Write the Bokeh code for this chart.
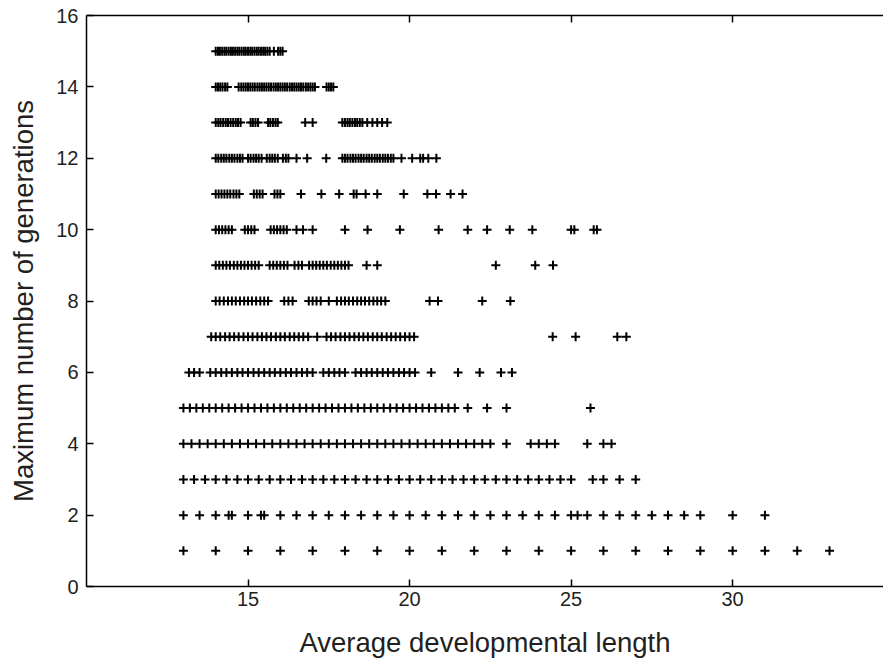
from bokeh.plotting import figure
from bokeh.models import ColumnDataSource, FixedTicker, LinearAxis, Range1d
from bokeh.embed import file_html
from bokeh.resources import INLINE

# Average developmental length values observed for each maximum number of generations
gen1 = [13, 14, 15, 16, 17, 18, 19, 20, 21, 22, 23, 24, 25, 26, 27, 28, 29, 30, 31, 32, 33]
gen2 = [13, 13.5, 14, 14.4, 14.5, 15, 15.4, 15.5, 16, 16.5, 17, 17.5, 18, 18.5, 19, 19.5, 20, 20.5,
        21, 21.5, 22, 22.5, 23, 23.5, 24, 24.5, 25, 25.2, 25.5, 26, 26.5, 27, 27.5, 28, 28.5, 29, 30, 31]
gen3 = [13.0, 13.33, 13.67, 14.0, 14.33, 14.67, 15.0, 15.33, 15.67, 16.0, 16.33, 16.67, 17.0, 17.33,
        17.67, 18.0, 18.33, 18.67, 19.0, 19.33, 19.67, 20.0, 20.33, 20.67, 21.0, 21.33, 21.67, 22.0,
        22.33, 22.67, 23.0, 23.33, 23.67, 24.0, 24.33, 24.67, 25.0, 25.67, 26.0, 26.5, 27.0]
gen4 = [13.0, 13.25, 13.5, 13.75, 14.0, 14.25, 14.5, 14.75, 15.0, 15.25, 15.5, 15.75, 16.0, 16.25,
        16.5, 16.75, 17.0, 17.25, 17.5, 17.75, 18.0, 18.25, 18.5, 18.75, 19.0, 19.25, 19.5, 19.75,
        20.0, 20.25, 20.5, 20.75, 21.0, 21.25, 21.5, 21.75, 22.0, 22.25, 22.5, 23.0,
        23.75, 24.0, 24.25, 24.5, 25.5, 26.0, 26.25]
gen5 = [13.0, 13.2, 13.4, 13.6, 13.8, 14.0, 14.2, 14.4, 14.6, 14.8, 15.0, 15.2, 15.4, 15.6, 15.8,
        16.0, 16.2, 16.4, 16.6, 16.8, 17.0, 17.2, 17.4, 17.6, 17.8, 18.0, 18.2, 18.4, 18.6, 18.8,
        19.0, 19.2, 19.4, 19.6, 19.8, 20.0, 20.2, 20.4, 20.6, 20.8, 21.0, 21.2, 21.4, 21.8,
        22.4, 23.0, 25.6]
gen6 = [13.17, 13.33, 13.5, 13.83, 14.0, 14.17, 14.33, 14.5, 14.67, 14.83, 15.0, 15.17, 15.33, 15.5,
        15.67, 15.83, 16.0, 16.17, 16.33, 16.5, 16.67, 16.83, 17.0, 17.33, 17.5, 17.67, 17.83, 18.0,
        18.33, 18.5, 18.67, 18.83, 19.0, 19.17, 19.33, 19.5, 19.67, 19.83, 20.0, 20.17,
        20.67, 21.5, 22.17, 22.83, 23.17]
gen7 = [13.86, 14.0, 14.14, 14.29, 14.43, 14.57, 14.71, 14.86, 15.0, 15.14, 15.29, 15.43, 15.57,
        15.71, 15.86, 16.0, 16.14, 16.29, 16.43, 16.57, 16.71, 16.86, 17.14, 17.43, 17.57, 17.71,
        17.86, 18.0, 18.14, 18.29, 18.43, 18.57, 18.71, 18.86, 19.0, 19.14, 19.29, 19.43, 19.57,
        19.71, 19.86, 20.0, 20.14, 24.43, 25.14, 26.43, 26.71]
gen8 = [14.0, 14.12, 14.25, 14.38, 14.5, 14.62, 14.75, 14.88, 15.0, 15.12, 15.25, 15.38, 15.5, 15.62,
        16.12, 16.25, 16.38, 16.88, 17.0, 17.12, 17.25, 17.5, 17.75, 17.88, 18.0, 18.12, 18.25,
        18.38, 18.5, 18.62, 18.75, 18.88, 19.0, 19.12, 19.25, 20.62, 20.88, 22.25, 23.12]
gen9 = [14.0, 14.11, 14.22, 14.33, 14.44, 14.56, 14.67, 14.78, 14.89, 15.0, 15.11, 15.22, 15.33,
        15.67, 15.78, 15.89, 16.0, 16.11, 16.22, 16.44, 16.56, 16.67, 16.89, 17.0, 17.11, 17.22,
        17.33, 17.44, 17.56, 17.67, 17.78, 17.89, 18.0, 18.11, 18.67, 19.0, 22.67, 23.89, 24.44]
gen10 = [14.0, 14.1, 14.2, 14.3, 14.4, 14.5, 14.9, 15.0, 15.1, 15.2, 15.7, 15.8, 15.9, 16.0, 16.1,
         16.2, 16.5, 16.7, 17.0, 18.0, 18.7, 19.7, 20.9, 21.8, 22.4, 23.1, 23.8, 25.0, 25.1, 25.7, 25.8]
gen11 = [14.0, 14.09, 14.18, 14.27, 14.36, 14.45, 14.55, 14.64, 14.73, 15.18, 15.27, 15.36, 15.45,
         15.82, 15.91, 16.0, 16.64, 17.27, 17.82, 18.27, 18.36, 18.64, 19.0, 19.82, 20.55, 20.82,
         21.27, 21.64]
gen12 = [14.0, 14.08, 14.17, 14.25, 14.33, 14.42, 14.5, 14.58, 14.67, 14.75, 14.83, 15.0, 15.08,
         15.17, 15.25, 15.33, 15.42, 15.58, 15.67, 15.75, 15.83, 15.92, 16.08, 16.17, 16.25, 16.5,
         16.83, 17.42, 17.92, 18.0, 18.08, 18.17, 18.25, 18.33, 18.42, 18.5, 18.58, 18.67, 18.75,
         18.83, 18.92, 19.0, 19.08, 19.17, 19.25, 19.33, 19.42, 19.5, 19.75, 20.08, 20.33, 20.42,
         20.58, 20.83]
gen13 = [14.0, 14.08, 14.15, 14.23, 14.31, 14.38, 14.46, 14.54, 14.62, 14.69, 14.77, 15.08, 15.15,
         15.23, 15.31, 15.62, 15.69, 15.77, 15.85, 15.92, 16.77, 17.0, 17.92, 18.0, 18.08, 18.15,
         18.23, 18.31, 18.38, 18.46, 18.54, 18.69, 18.85, 19.0, 19.15, 19.31]
gen14 = [14.0, 14.07, 14.14, 14.21, 14.29, 14.36, 14.71, 14.79, 14.86, 14.93, 15.0, 15.07, 15.14,
         15.21, 15.29, 15.36, 15.43, 15.5, 15.57, 15.64, 15.71, 15.79, 15.86, 15.93, 16.0, 16.07,
         16.14, 16.21, 16.29, 16.36, 16.43, 16.5, 16.57, 16.64, 16.71, 16.79, 16.86, 16.93, 17.0,
         17.07, 17.43, 17.5, 17.57, 17.64]
gen15 = [14.0, 14.07, 14.13, 14.2, 14.27, 14.33, 14.4, 14.47, 14.53, 14.6, 14.67, 14.73, 14.8, 14.87,
         14.93, 15.0, 15.07, 15.13, 15.2, 15.27, 15.33, 15.4, 15.47, 15.53, 15.6, 15.67, 15.8,
         15.93, 16.0, 16.07]

generations = [1, 2, 3, 4, 5, 6, 7, 8, 9, 10, 11, 12, 13, 14, 15]
series = [gen1, gen2, gen3, gen4, gen5, gen6, gen7, gen8, gen9, gen10, gen11, gen12, gen13, gen14, gen15]

x_ticks = [15, 20, 25, 30]
y_ticks = [0, 2, 4, 6, 8, 10, 12, 14, 16]

xs, ys = [], []
for g, vals in zip(generations, series):
    xs.extend(vals)
    ys.extend([g] * len(vals))
src = ColumnDataSource(data=dict(x=xs, y=ys))

TEXT = "#231f20"
FONT = "Liberation Sans"

p = figure(width=883, height=664, x_range=Range1d(10, 34.67), y_range=Range1d(0, 16),
           output_backend="svg", toolbar_location=None,
           min_border_left=86, min_border_top=15, min_border_bottom=78, min_border_right=0)
p.outline_line_color = None
p.grid.visible = False
p.background_fill_color = "white"
p.border_fill_color = "white"

p.scatter(x="x", y="y", source=src, marker="cross", size=9, line_color="black", line_width=2)

bottom = p.below[0]
left = p.left[0]

for ax in [bottom, left]:
    ax.axis_line_color = "black"
    ax.axis_line_width = 1.5
    ax.major_tick_line_color = "black"
    ax.major_tick_line_width = 1.5
    ax.major_tick_in = 7
    ax.major_tick_out = 0
    ax.minor_tick_line_color = None
    ax.major_label_text_font = FONT
    ax.major_label_text_font_size = "20px"
    ax.major_label_text_color = TEXT
    ax.axis_label_text_font = FONT
    ax.axis_label_text_font_size = "27.5px"
    ax.axis_label_text_font_style = "normal"
    ax.axis_label_text_color = TEXT

bottom.ticker = FixedTicker(ticks=x_ticks)
left.ticker = FixedTicker(ticks=y_ticks)
bottom.axis_label = "Average developmental length"
left.axis_label = "Maximum number of generations"
bottom.major_label_standoff = 5
bottom.axis_label_standoff = 18
left.major_label_standoff = 8
left.axis_label_standoff = 14

# top frame line with inward ticks (tick marks only, no labels)
top = LinearAxis(ticker=FixedTicker(ticks=[], minor_ticks=x_ticks))
top.axis_line_color = "black"
top.axis_line_width = 1.5
top.major_tick_line_color = None
top.minor_tick_line_color = "black"
top.minor_tick_line_width = 1.5
top.minor_tick_in = 7
top.minor_tick_out = 0
top.major_label_standoff = 0
top.axis_label = None
p.add_layout(top, "above")

open("out.html", "w").write(file_html(p, INLINE))
